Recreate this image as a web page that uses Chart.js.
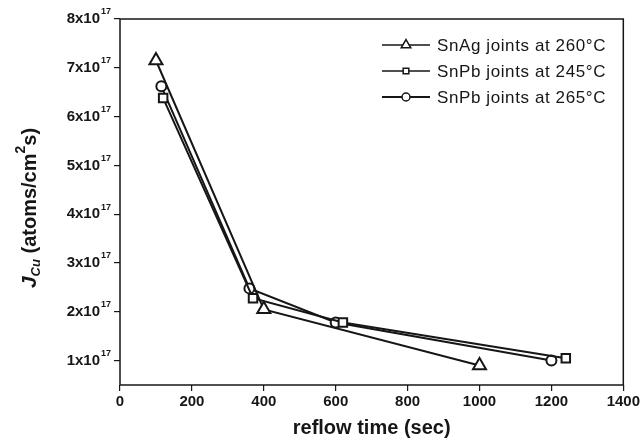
<!DOCTYPE html>
<html>
<head>
<meta charset="utf-8">
<script src="https://cdn.jsdelivr.net/npm/chart.js@4.4.1/dist/chart.umd.min.js"></script>
<style>
  html, body { margin: 0; padding: 0; background: #fff; }
</style>
</head>
<body>
<canvas id="chart" width="642" height="445"></canvas>
<script>
  // reflow time (sec) vs Cu flux, flux in units of 10^17 atoms/cm^2 s
  const timeSnAg260 = [100, 400, 1000];
  const fluxSnAg260 = [7.15, 2.05, 0.9];
  const timeSnPb245 = [120, 370, 620, 1240];
  const fluxSnPb245 = [6.38, 2.28, 1.78, 1.05];
  const timeSnPb265 = [115, 360, 600, 1200];
  const fluxSnPb265 = [6.62, 2.48, 1.78, 1.0];

  const seriesLabels = ["SnAg joints at 260°C", "SnPb joints at 245°C", "SnPb joints at 265°C"];
  const xTickValues = [0, 200, 400, 600, 800, 1000, 1200, 1400];
  const yTickValues = [1, 2, 3, 4, 5, 6, 7, 8];

  const INK = "#161616";
  const FONT = "'Liberation Sans', Arial, sans-serif";

  function toPoints(xs, ys) {
    return xs.map((x, i) => ({ x, y: ys[i] }));
  }

  function series(label, xs, ys, style, radius) {
    return {
      label,
      data: toPoints(xs, ys),
      borderColor: INK,
      borderWidth: 2,
      backgroundColor: "#fff",
      pointStyle: style,
      pointRadius: radius,
      pointHoverRadius: radius,
      pointBorderWidth: 2,
      pointBorderColor: INK,
      pointBackgroundColor: "#fff",
      tension: 0,
    };
  }

  // frame, y tick labels with exponent, y title with sub/superscripts, legend
  const decorations = {
    id: "decorations",
    afterDraw(chart) {
      const ctx = chart.ctx;
      const area = chart.chartArea;
      const yScale = chart.scales.y;
      ctx.save();
      ctx.strokeStyle = INK;
      ctx.lineWidth = 1.5;
      ctx.strokeRect(area.left, area.top, area.right - area.left, area.bottom - area.top);

      // y tick labels "Nx10^17"
      ctx.fillStyle = INK;
      ctx.textBaseline = "middle";
      yTickValues.forEach((v) => {
        const py = yScale.getPixelForValue(v);
        const expX = area.left - 20;
        ctx.font = "bold 9px " + FONT;
        ctx.textAlign = "left";
        ctx.fillText("17", expX + 1, py - 7);
        ctx.font = "bold 15px " + FONT;
        ctx.textAlign = "right";
        ctx.fillText(v + "x10", expX, py);
      });

      // y title: J_Cu (atoms/cm^2 s)
      const parts = [
        { t: "J", f: "italic bold 21px " + FONT, dy: 0 },
        { t: "Cu", f: "italic bold 13px " + FONT, dy: 6 },
        { t: " (atoms/cm", f: "bold 20px " + FONT, dy: 0 },
        { t: "2", f: "bold 14px " + FONT, dy: -9 },
        { t: "s)", f: "bold 20px " + FONT, dy: 0 },
      ];
      let total = 0;
      parts.forEach((p) => {
        ctx.font = p.f;
        p.w = ctx.measureText(p.t).width;
        total += p.w;
      });
      ctx.translate(30, 208);
      ctx.rotate(-Math.PI / 2);
      ctx.textAlign = "left";
      let cx = -total / 2;
      parts.forEach((p) => {
        ctx.font = p.f;
        ctx.fillText(p.t, cx, p.dy);
        cx += p.w;
      });
      ctx.restore();

      // legend: line sample with marker, then label
      ctx.save();
      const rows = [45, 71, 97];
      chart.data.datasets.forEach((ds, i) => {
        const y = rows[i];
        ctx.strokeStyle = INK;
        ctx.lineWidth = i === 2 ? 2 : 1.3;
        ctx.beginPath();
        ctx.moveTo(382, y);
        ctx.lineTo(430, y);
        ctx.stroke();
        ctx.fillStyle = "#fff";
        ctx.lineWidth = 1.5;
        Chart.helpers.drawPoint(ctx, {
          pointStyle: ds.pointStyle,
          rotation: 0,
          radius: i === 0 ? 5.5 : 4,
          borderWidth: 1.5,
        }, 406, y);
        ctx.fillStyle = INK;
        ctx.font = "17px " + FONT;
        ctx.letterSpacing = "0.6px";
        ctx.textAlign = "left";
        ctx.textBaseline = "middle";
        ctx.fillText(ds.label, 437, y + 1);
      });
      ctx.restore();
    },
  };

  new Chart(document.getElementById("chart"), {
    type: "line",
    data: {
      datasets: [
        series(seriesLabels[0], timeSnAg260, fluxSnAg260, "triangle", 7.5),
        series(seriesLabels[1], timeSnPb245, fluxSnPb245, "rect", 6),
        series(seriesLabels[2], timeSnPb265, fluxSnPb265, "circle", 5),
      ],
    },
    options: {
      responsive: false,
      animation: false,
      layout: { padding: { top: 19, right: 15, left: 0, bottom: 0 } },
      plugins: {
        legend: { display: false },
        tooltip: { enabled: false },
      },
      scales: {
        x: {
          type: "linear",
          min: 0,
          max: 1400,
          afterFit(scale) { scale.height = 60; },
          afterBuildTicks(scale) { scale.ticks = xTickValues.map((v) => ({ value: v })); },
          border: { display: false },
          grid: { drawOnChartArea: false, tickLength: 6, color: INK, lineWidth: 1.2 },
          ticks: {
            color: INK,
            padding: 2,
            maxRotation: 0,
            autoSkip: false,
            callback: (v) => String(v),
            font: { family: FONT, size: 15, weight: "bold" },
          },
          title: {
            display: true,
            text: "reflow time (sec)",
            color: INK,
            padding: { top: 0, bottom: 5 },
            font: { family: FONT, size: 20, weight: "bold" },
          },
        },
        y: {
          type: "linear",
          min: 0.5,
          max: 8,
          afterFit(scale) { scale.width = 120; },
          afterBuildTicks(scale) { scale.ticks = yTickValues.map((v) => ({ value: v })); },
          border: { display: false },
          grid: { drawOnChartArea: false, tickLength: 6, color: INK, lineWidth: 1.2 },
          ticks: { display: false },
        },
      },
    },
    plugins: [decorations],
  });
</script>
</body>
</html>
